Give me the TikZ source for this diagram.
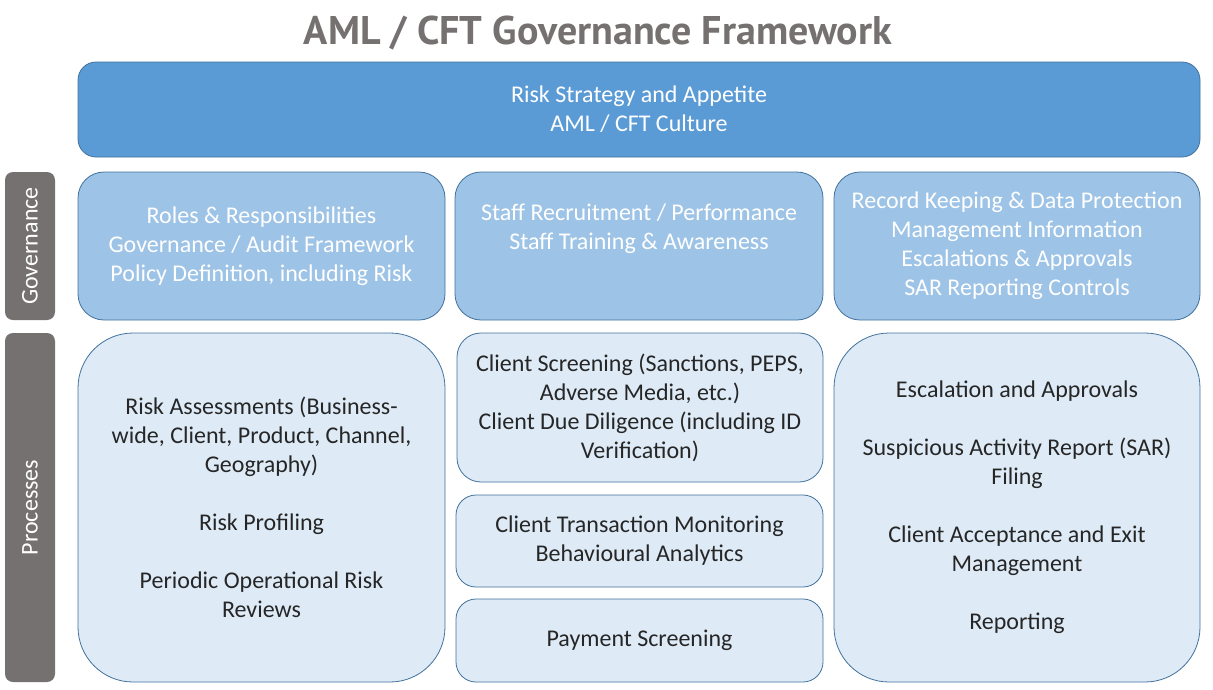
\documentclass[tikz,border=0pt]{standalone}
\usepackage{fontspec}
\setmainfont{Carlito}
\newfontfamily\titlefont{PT Sans}
\definecolor{topblue}{HTML}{5B9BD5}
\definecolor{midblue}{HTML}{9DC3E6}
\definecolor{paleblue}{HTML}{DEEBF7}
\definecolor{edgeblue}{HTML}{41719C}
\definecolor{sidegray}{HTML}{767171}
\definecolor{darktext}{HTML}{262626}
\tikzset{
  box/.style={draw=edgeblue, line width=0.8pt, align=center, inner sep=0pt,
    font=\fontsize{24}{29}\selectfont},
  topbox/.style={box, fill=topblue, text=white, rounded corners=18pt},
  govbox/.style={box, fill=midblue, text=white, rounded corners=26pt},
  procbox/.style={box, fill=paleblue, text=darktext},
  sidebar/.style={fill=sidegray, draw=none, rounded corners=8pt, text=white, inner sep=0pt},
  sidelabel/.style={text=white, rotate=90, font=\fontsize{24}{28}\selectfont}
}
\begin{document}
\begin{tikzpicture}[x=1pt,y=-1pt]
\useasboundingbox (0,0) rectangle (1213,689);
\node[text=sidegray, font=\titlefont\bfseries\fontsize{40}{44}\selectfont] (title) at (598,33) {AML / CFT Governance Framework};
\node[topbox, minimum width=1122pt, minimum height=95pt] (strategy) at (639,109.5) {Risk Strategy and Appetite\\AML / CFT Culture};
\node[sidebar, minimum width=50pt, minimum height=148pt] (govside) at (30,246) {};
\node[sidelabel] (govlabel) at (govside.center) {Governance};
\node[sidebar, minimum width=50pt, minimum height=349pt] (procside) at (30,507.5) {};
\node[sidelabel] (proclabel) at (procside.center) {Processes};
\node[govbox, minimum width=367pt, minimum height=148pt] (gov1) at (261.5,246) {Roles \& Responsibilities\\Governance / Audit Framework\\Policy Definition, including Risk};
\node[govbox, minimum width=368pt, minimum height=148pt] (gov2) at (639,246) {Staff Recruitment / Performance\\Staff Training \& Awareness\\\strut};
\node[govbox, minimum width=366pt, minimum height=148pt] (gov3) at (1017,246) {Record Keeping \& Data Protection\\Management Information\\Escalations \& Approvals\\SAR Reporting Controls};
\node[procbox, rounded corners=55pt, minimum width=367pt, minimum height=349pt] (proc1) at (261.5,507.5) {Risk Assessments (Business-\\wide, Client, Product, Channel,\\Geography)\\[29pt]Risk Profiling\\[29pt]Periodic Operational Risk\\Reviews};
\node[procbox, rounded corners=24pt, minimum width=366pt, minimum height=149pt] (proc2) at (640,407.5) {Client Screening (Sanctions, PEPS,\\Adverse Media, etc.)\\Client Due Diligence (including ID\\Verification)};
\node[procbox, rounded corners=20pt, minimum width=367pt, minimum height=92pt] (proc3) at (639.5,541) {Client Transaction Monitoring\\Behavioural Analytics};
\node[procbox, rounded corners=20pt, minimum width=367pt, minimum height=83pt] (proc4) at (639.5,640.5) {Payment Screening};
\node[procbox, rounded corners=55pt, minimum width=366pt, minimum height=349pt] (proc5) at (1017,507.5) {Escalation and Approvals\\[29pt]Suspicious Activity Report (SAR)\\Filing\\[29pt]Client Acceptance and Exit\\Management\\[29pt]Reporting};
\end{tikzpicture}
\end{document}
